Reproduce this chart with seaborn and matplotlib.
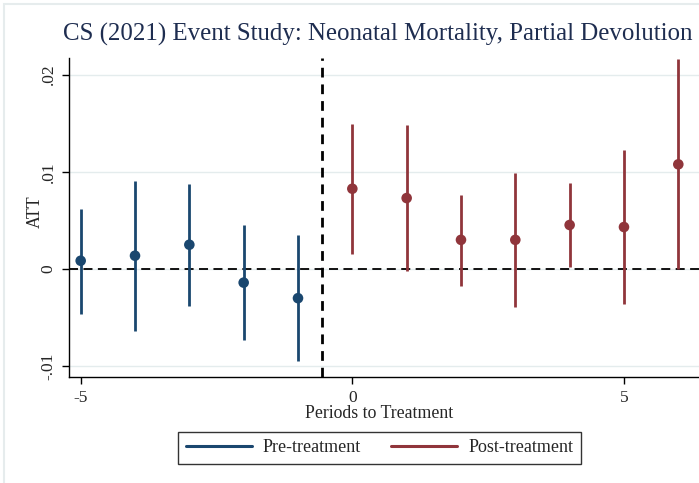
import numpy as np
import pandas as pd
import matplotlib
matplotlib.use("Agg")
import matplotlib.pyplot as plt
from matplotlib.lines import Line2D
import seaborn as sns

# ---- data ----
periods = [-5, -4, -3, -2, -1, 0, 1, 2, 3, 4, 5, 6]
att = [0.00085, 0.00137, 0.0025, -0.0014, -0.0030,
       0.00826, 0.0073, 0.0030, 0.0030, 0.00453, 0.00432, 0.01077]
ci_low = [-0.0046, -0.0064, -0.0038, -0.0073, -0.0095,
          0.00154, -0.00024, -0.0017, -0.0039, 0.00024, -0.0036, 0.0]
ci_high = [0.0062, 0.0091, 0.0087, 0.0045, 0.0035,
           0.0149, 0.01485, 0.0076, 0.00985, 0.0088, 0.01224, 0.02157]
phase = ["Pre-treatment"] * 5 + ["Post-treatment"] * 7

y_ticks = [-0.01, 0.0, 0.01, 0.02]
y_tick_labels = ["-.01", "0", ".01", ".02"]
x_ticks = [-5, 0, 5]
x_tick_labels = ["-5", "0", "5"]

title = "CS (2021) Event Study: Neonatal Mortality, Partial Devolution"
x_label = "Periods to Treatment"
y_label = "ATT"

df = pd.DataFrame({"period": periods, "att": att, "lo": ci_low,
                   "hi": ci_high, "phase": phase})

sns.set_theme(style="white")
plt.rcParams["font.family"] = ["Liberation Serif", "DejaVu Serif"]

colors = {"Pre-treatment": "#1a476f", "Post-treatment": "#90353b"}

fig = plt.figure(figsize=(6.99, 4.83), dpi=100)
fig.patch.set_facecolor("white")

# faint outer frame
fig.add_artist(plt.Rectangle((4 / 699, -0.05), 1.2, 1.05 - 4 / 483,
                             transform=fig.transFigure, fill=False,
                             edgecolor="#e6eced", linewidth=1.5))

ax = fig.add_axes([69 / 699, 1 - 377 / 483, 630 / 699, (377 - 58) / 483])
ax.set_facecolor("white")

# gridlines
for yt in y_ticks:
    ax.axhline(yt, color="#e4eced", linewidth=1.0, zorder=0)

# zero line and treatment line
ax.axhline(0, color="black", linestyle=(0, (5, 3)), linewidth=1.3, zorder=1)
ax.axvline(-0.56, color="black", linestyle=(0, (3.5, 2.5)), linewidth=2.0, zorder=1)

# confidence intervals
for ph, sub in df.groupby("phase"):
    ax.vlines(sub["period"], sub["lo"], sub["hi"], color=colors[ph],
              linewidth=2.0, zorder=2)

sns.scatterplot(data=df, x="period", y="att", hue="phase", palette=colors,
                s=58, edgecolor="none", legend=False, ax=ax, zorder=3)

ax.set_xlim(-5.215, 6.381)
ax.set_ylim(-0.01111, 0.02171)

ax.set_yticks(y_ticks)
ax.set_yticklabels(y_tick_labels, rotation=90, va="center", fontsize=12.5)
ax.set_xticks(x_ticks)
ax.set_xticklabels(x_tick_labels, fontsize=12.5)
ax.tick_params(axis="both", which="both", direction="out", length=5,
               width=1, color="black", pad=4, bottom=True, left=True)

for side in ["top", "right"]:
    ax.spines[side].set_visible(False)
for side in ["left", "bottom"]:
    ax.spines[side].set_color("black")
    ax.spines[side].set_linewidth(1.0)

ax.set_xlabel(x_label, fontsize=12.8)
ax.set_ylabel(y_label, fontsize=12.8)
ax.xaxis.set_label_coords((379 - 69) / 630, -(413 - 377) / (377 - 58))
ax.yaxis.set_label_coords((35 - 69) / 630, (377 - 212) / (377 - 58))
ax.xaxis.label.set_va("center")
ax.yaxis.label.set_va("center")

fig.text(377.5 / 699, 1 - 34 / 483, title, ha="center", va="center",
         fontsize=17.9, color="#1e2d50")

handles = [Line2D([0], [0], color=colors["Pre-treatment"], lw=2.2),
           Line2D([0], [0], color=colors["Post-treatment"], lw=2.2)]
leg = fig.legend(handles, ["Pre-treatment", "Post-treatment"], ncol=2,
                 loc="center", bbox_to_anchor=(379.5 / 699, 1 - 448 / 483),
                 frameon=True, fancybox=False, fontsize=13,
                 handlelength=3.67, columnspacing=1.67, handletextpad=0.6,
                 borderpad=0.4, borderaxespad=0)
leg.get_frame().set_edgecolor("black")
leg.get_frame().set_linewidth(1.0)

fig.savefig("out.png", dpi=100)
